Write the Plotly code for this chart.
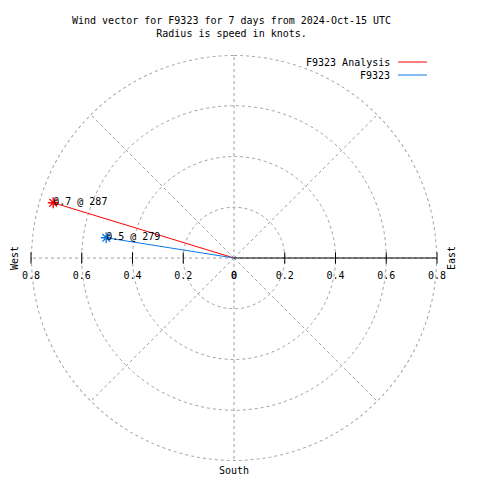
import numpy as np
import plotly.graph_objects as go

# ---- data ----
series_names = ["F9323 Analysis", "F9323"]
speeds = [0.745, 0.51]          # knots (radius)
directions = [287, 279]         # degrees, compass
point_labels = ["0.7 @ 287", "0.5 @ 279"]
series_colors = ["#ff0000", "#0a78e6"]

radial_ticks = [0.2, 0.4, 0.6, 0.8]
radial_tick_text = ["0.2", "0.4", "0.6", "0.8"]

title_lines = ["Wind vector for F9323 for 7 days from 2024-Oct-15 UTC",
               "Radius is speed in knots."]

FONT = "DejaVu Sans Mono"
FS = 10
W = H = 480
OFF = 8  # page body margin
GRID = "#a0a0a0"


def px(x):
    return (x - OFF) / W


def py(y):
    return 1 - (y - OFF) / H


rmax = max(radial_ticks)
fig = go.Figure()

# outer dotted boundary circle (grid)
circ_theta = np.linspace(0, 360, 361)
fig.add_trace(go.Scatterpolar(
    r=[rmax] * len(circ_theta), theta=circ_theta, mode="lines",
    line=dict(color=GRID, width=2, dash="dot"), hoverinfo="skip", showlegend=False))

# solid radial axis line to the East
fig.add_trace(go.Scatterpolar(
    r=[0, rmax], theta=[90, 90], mode="lines",
    line=dict(color="black", width=1), hoverinfo="skip", showlegend=False))

# tick marks + labels along the East-West axis
for th in (90, 270):
    fig.add_trace(go.Scatterpolar(
        r=radial_ticks, theta=[th] * len(radial_ticks), mode="markers",
        marker=dict(symbol="line-ns", size=8, line=dict(color="black", width=1)),
        hoverinfo="skip", showlegend=False))
    fig.add_trace(go.Scatterpolar(
        r=[0] + radial_ticks, theta=[th] * (len(radial_ticks) + 1), mode="markers+text",
        marker=dict(size=20, color="rgba(0,0,0,0)"),
        text=["0"] + radial_tick_text, textposition="bottom center",
        textfont=dict(family=FONT, size=FS, color="black"),
        hoverinfo="skip", showlegend=False))

# wind vectors
for name, s, d, lab, c in zip(series_names, speeds, directions, point_labels, series_colors):
    fig.add_trace(go.Scatterpolar(
        r=[0, s], theta=[d, d], mode="lines",
        line=dict(color=c, width=1), name=name, showlegend=False))
    fig.add_trace(go.Scatterpolar(
        r=[s], theta=[d], mode="markers",
        marker=dict(symbol="asterisk-open", size=9, color=c, line=dict(color=c, width=1.3)),
        showlegend=False))
    fig.add_trace(go.Scatterpolar(
        r=[s], theta=[d], mode="text",
        text=[lab], textposition="middle right",
        textfont=dict(family=FONT, size=FS, color="black"),
        showlegend=False))

ann_font = dict(family=FONT, size=FS, color="black")
fig.update_layout(
    width=W, height=H,
    paper_bgcolor="white",
    margin=dict(l=0, r=0, t=0, b=0),
    showlegend=False,
    polar=dict(
        domain=dict(x=[px(31), px(437)], y=[py(461), py(55)]),
        bgcolor="white",
        angularaxis=dict(direction="clockwise", rotation=90, dtick=45,
                         showline=False, showticklabels=False, ticks="",
                         showgrid=True, gridcolor=GRID, gridwidth=1, griddash="dot"),
        radialaxis=dict(range=[0, rmax], tickvals=radial_ticks, angle=0,
                        showline=False, showticklabels=False, ticks="",
                        showgrid=True, gridcolor=GRID, gridwidth=1, griddash="dot"),
    ),
    annotations=[
        dict(text=title_lines[0] + "<br>" + title_lines[1], x=px(231), y=py(13),
             xref="paper", yref="paper", xanchor="center", yanchor="top", showarrow=False,
             font=ann_font),
        dict(text="West", x=px(14), y=py(258), xref="paper", yref="paper",
             xanchor="center", yanchor="middle",
             textangle=-90, showarrow=False, font=ann_font),
        dict(text="East", x=px(451), y=py(258), xref="paper", yref="paper",
             xanchor="center", yanchor="middle",
             textangle=-90, showarrow=False, font=ann_font),
        dict(text="South", x=px(234), y=py(470), xref="paper", yref="paper",
             xanchor="center", yanchor="middle", showarrow=False, font=ann_font),
        dict(text=series_names[0], x=px(392), y=py(62), xref="paper", yref="paper",
             xanchor="right", yanchor="middle", showarrow=False, font=ann_font),
        dict(text=series_names[1], x=px(392), y=py(75), xref="paper", yref="paper",
             xanchor="right", yanchor="middle", showarrow=False, font=ann_font),
    ],
    shapes=[
        dict(type="line", xref="paper", yref="paper", x0=px(398), x1=px(427),
             y0=py(62), y1=py(62), line=dict(color=series_colors[0], width=1)),
        dict(type="line", xref="paper", yref="paper", x0=px(398), x1=px(427),
             y0=py(75), y1=py(75), line=dict(color=series_colors[1], width=1)),
    ],
)

fig.write_html("out.html")
